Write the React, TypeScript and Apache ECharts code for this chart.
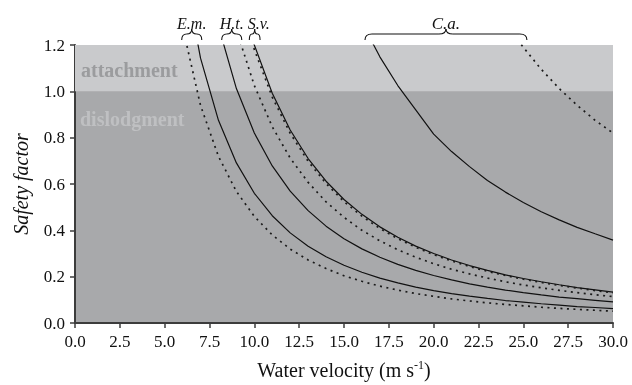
import React, { useEffect, useRef } from "react";
import * as echarts from "echarts";

// Water velocity (m/s) at which the curves were read
const velocities = [6, 7, 8, 9, 10, 11, 12, 13, 14, 15, 16, 17, 18, 19, 20, 21, 22, 23, 24, 25, 26, 27, 28, 29, 30];

// Safety factor values (null = off the top of the chart)
const emSolid = [1.556, 1.143, 0.875, 0.691, 0.56, 0.463, 0.389, 0.331, 0.286, 0.249, 0.219, 0.194, 0.173, 0.155, 0.14, 0.127, 0.116, 0.106, 0.097, 0.09, 0.083, 0.077, 0.071, 0.067, 0.062];
const emDotted = [1.278, 0.939, 0.719, 0.568, 0.46, 0.38, 0.319, 0.272, 0.235, 0.204, 0.18, 0.159, 0.142, 0.127, 0.115, 0.104, 0.095, 0.087, 0.08, 0.074, 0.068, 0.063, 0.059, 0.055, 0.051];
const htSolid = [null, null, 1.281, 1.012, 0.82, 0.678, 0.569, 0.485, 0.418, 0.364, 0.32, 0.284, 0.253, 0.227, 0.205, 0.186, 0.169, 0.155, 0.142, 0.131, 0.121, 0.112, 0.105, 0.098, 0.091];
const htDotted = [null, null, null, 1.265, 1.025, 0.847, 0.712, 0.607, 0.523, 0.456, 0.4, 0.355, 0.316, 0.284, 0.256, 0.232, 0.212, 0.194, 0.178, 0.164, 0.152, 0.141, 0.131, 0.122, 0.114];
const svSolid = [null, null, null, 1.481, 1.2, 0.992, 0.833, 0.71, 0.612, 0.533, 0.469, 0.415, 0.37, 0.332, 0.3, 0.272, 0.248, 0.227, 0.208, 0.192, 0.178, 0.165, 0.153, 0.143, 0.133];
const svDotted = [null, null, null, 1.457, 1.18, 0.975, 0.819, 0.698, 0.602, 0.524, 0.461, 0.408, 0.364, 0.327, 0.295, 0.268, 0.244, 0.223, 0.205, 0.189, 0.175, 0.162, 0.151, 0.14, 0.131];
const caSolid = [null, null, null, null, null, null, null, null, null, null, 1.297, 1.149, 1.025, 0.92, 0.815, 0.74, 0.675, 0.615, 0.565, 0.52, 0.48, 0.445, 0.413, 0.385, 0.358];
const caDotted = [null, null, null, null, null, null, null, null, null, null, null, null, null, null, null, null, null, null, 1.29, 1.19, 1.095, 1.012, 0.94, 0.875, 0.82];

// Species braces (velocity range at the top of the plot)
const speciesLabels = ["E.m.", "H.t.", "S.v.", "C.a."];
const braceFrom = [5.95, 8.18, 9.72, 16.17];
const braceTo = [7.07, 9.3, 10.32, 25.2];

// Background bands
const bandLabels = ["attachment", "dislodgment"];
const bandLimits = [0, 1, 1.2];

const SERIF = '"Liberation Serif", "Times New Roman", serif';

export default function App() {
  const ref = useRef<HTMLDivElement>(null);

  useEffect(() => {
    document.body.style.margin = "0";
    const chart = echarts.init(ref.current!, null, { renderer: "svg" });

    const pairs = (vals: (number | null)[]) =>
      velocities
        .map((v, i) => (vals[i] == null ? null : [v, vals[i] as number]))
        .filter((p) => p !== null);

    const solid = { color: "#111", width: 1.2, type: "solid" };
    const dotted = { color: "#1a1a1a", width: 1.7, type: [2, 4.5] };
    const mk = (name: string, vals: (number | null)[], style: any) => ({
      type: "line",
      name,
      data: pairs(vals),
      showSymbol: false,
      symbol: "none",
      lineStyle: style,
      silent: true,
      z: 3,
    });

    const series: any[] = [
      {
        type: "line",
        name: "bands",
        data: [],
        silent: true,
        z: 1,
        markArea: {
          silent: true,
          itemStyle: { color: "#c9cacc", opacity: 1, borderWidth: 0 },
          data: [[{ yAxis: bandLimits[1] }, { yAxis: bandLimits[2] }]],
        },
      },
      mk("E.m. dotted", emDotted, dotted),
      mk("E.m.", emSolid, solid),
      mk("H.t.", htSolid, solid),
      mk("H.t. dotted", htDotted, dotted),
      mk("S.v.", svSolid, solid),
      mk("S.v. dotted", svDotted, dotted),
      mk("C.a.", caSolid, solid),
      mk("C.a. dotted", caDotted, dotted),
    ];

    const axisColor = "#3c3c3c";

    chart.setOption({
      animation: false,
      grid: {
        left: 75,
        top: 45,
        right: 19,
        bottom: 60,
        show: true,
        backgroundColor: "#a8a9ab",
        borderWidth: 0,
      },
      xAxis: {
        type: "value",
        min: 0,
        max: 30,
        interval: 2.5,
        name: "Water velocity (m s{sup|-1})",
        nameLocation: "middle",
        nameGap: 36,
        nameTextStyle: {
          fontFamily: SERIF,
          fontSize: 20,
          color: "#111",
          rich: {
            sup: { fontFamily: SERIF, fontSize: 12, color: "#111", padding: [0, 0, 10, 0] },
          },
        },
        axisLine: { show: true, lineStyle: { color: axisColor, width: 2 } },
        axisTick: { show: true, length: 5, lineStyle: { color: axisColor, width: 1.5 } },
        axisLabel: {
          margin: 10,
          fontFamily: SERIF,
          fontSize: 17,
          color: "#111",
          formatter: (v: number) => v.toFixed(1),
        },
        splitLine: { show: false },
      },
      yAxis: {
        type: "value",
        min: 0,
        max: 1.2,
        interval: 0.2,
        name: "Safety factor",
        nameLocation: "middle",
        nameGap: 44,
        nameTextStyle: { fontFamily: SERIF, fontSize: 20, fontStyle: "italic", color: "#111" },
        axisLine: { show: true, lineStyle: { color: axisColor, width: 2 } },
        axisTick: { show: true, length: 5, lineStyle: { color: axisColor, width: 1.5 } },
        axisLabel: {
          margin: 10,
          fontFamily: SERIF,
          fontSize: 17,
          color: "#111",
          formatter: (v: number) => v.toFixed(1),
        },
        splitLine: { show: false },
      },
      series,
    });

    // Annotations placed through the axes' own scales
    const px = (v: number, y: number) => chart.convertToPixel({ gridIndex: 0 }, [v, y]) as number[];
    const top = px(0, bandLimits[2])[1];
    const left = px(0, 0)[0];
    const yEnd = top - 5;
    const yLine = top - 11;
    const yPeak = top - 16;
    const stroke = { stroke: "#111", lineWidth: 1.1, fill: null };
    const labelShift = [0, 0, 4, 0];

    const elements: any[] = [];
    speciesLabels.forEach((lab, i) => {
      const xa = px(braceFrom[i], 0)[0];
      const xb = px(braceTo[i], 0)[0];
      const xm = (xa + xb) / 2;
      const r = Math.min(7, (xb - xa) / 4);
      elements.push(
        { type: "bezierCurve", silent: true, shape: { x1: xa, y1: yEnd, x2: xa + r, y2: yLine, cpx1: xa, cpy1: yLine }, style: stroke },
        { type: "line", silent: true, shape: { x1: xa + r, y1: yLine, x2: xm - r, y2: yLine }, style: stroke },
        { type: "bezierCurve", silent: true, shape: { x1: xm - r, y1: yLine, x2: xm, y2: yPeak, cpx1: xm, cpy1: yLine }, style: stroke },
        { type: "bezierCurve", silent: true, shape: { x1: xm, y1: yPeak, x2: xm + r, y2: yLine, cpx1: xm, cpy1: yLine }, style: stroke },
        { type: "line", silent: true, shape: { x1: xm + r, y1: yLine, x2: xb - r, y2: yLine }, style: stroke },
        { type: "bezierCurve", silent: true, shape: { x1: xb - r, y1: yLine, x2: xb, y2: yEnd, cpx1: xb, cpy1: yLine }, style: stroke },
        {
          type: "text",
          silent: true,
          x: xm + labelShift[i],
          y: top - 22,
          style: {
            text: lab,
            fontFamily: SERIF,
            fontSize: i === 3 ? 17 : 16,
            fontStyle: "italic",
            fill: "#111",
            align: "center",
            verticalAlign: "middle",
          },
        }
      );
    });

    const yAttach = px(0, (bandLimits[1] + bandLimits[2]) / 2)[1];
    const yDislodge = px(0, bandLimits[1])[1];
    elements.push(
      {
        type: "text",
        silent: true,
        x: left + 6,
        y: yAttach + 2,
        z: 10,
        style: { text: bandLabels[0], fontFamily: SERIF, fontSize: 20, fontWeight: "bold", fill: "#9b9c9e", align: "left", verticalAlign: "middle" },
      },
      {
        type: "text",
        silent: true,
        x: left + 5,
        y: yDislodge + 28,
        z: 10,
        style: { text: bandLabels[1], fontFamily: SERIF, fontSize: 20, fontWeight: "bold", fill: "#bfc0c2", align: "left", verticalAlign: "middle" },
      }
    );

    chart.setOption({ graphic: elements });

    return () => chart.dispose();
  }, []);

  return <div ref={ref} style={{ position: "fixed", left: 0, top: 0, width: 632, height: 385 }} />;
}
